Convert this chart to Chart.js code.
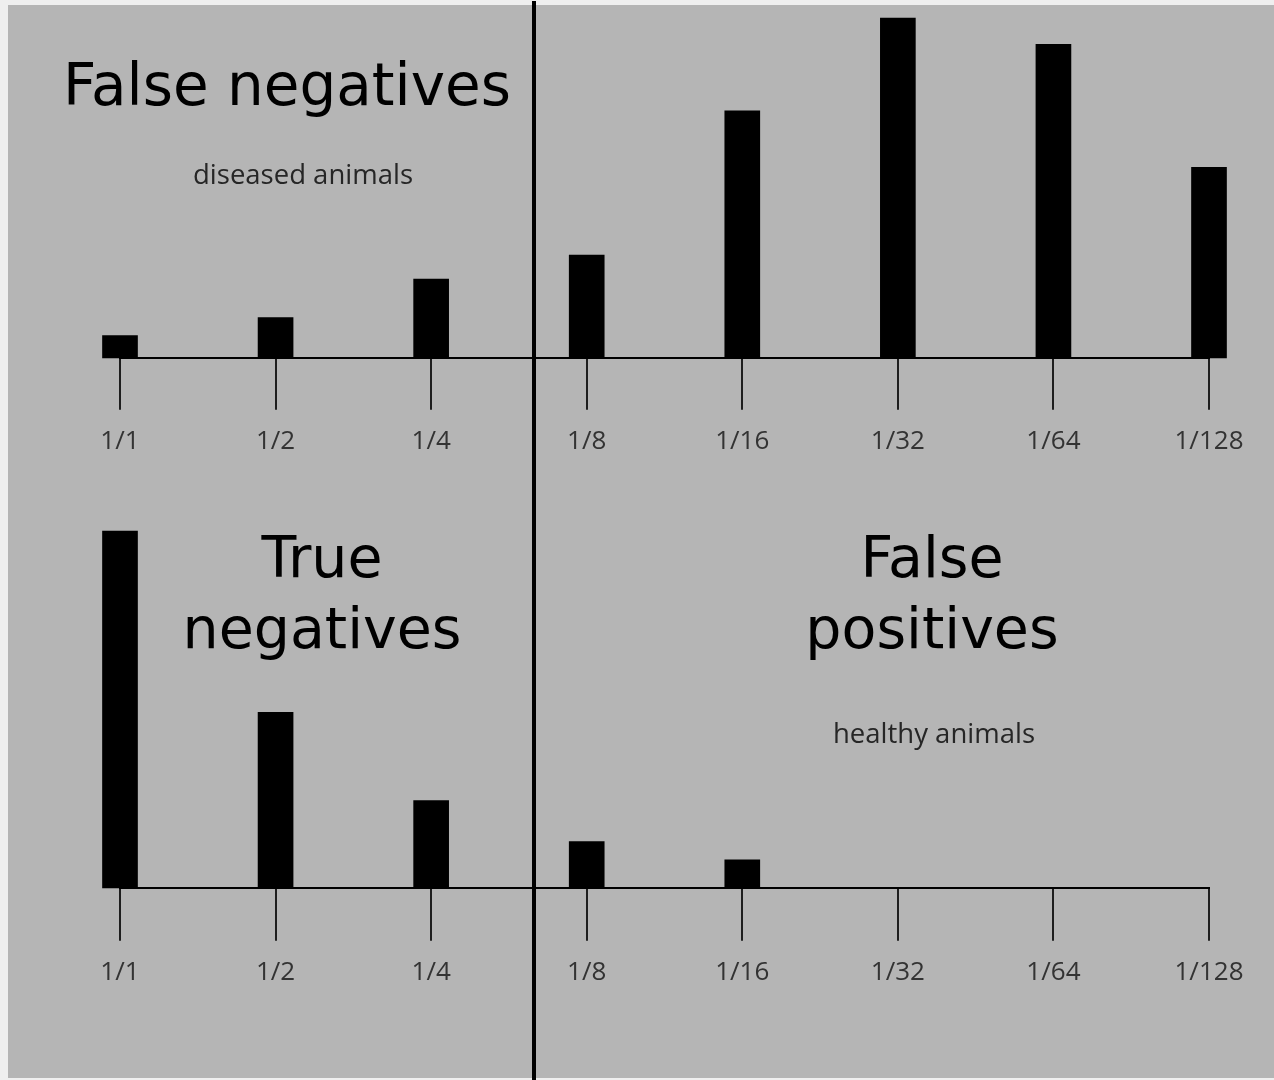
<!DOCTYPE html>
<html>
<head>
<meta charset="utf-8">
<script src="https://cdn.jsdelivr.net/npm/chart.js@4.4.0/dist/chart.umd.min.js"></script>
<style>
  html, body { margin: 0; padding: 0; background: #efefef; width: 1274px; height: 1080px; overflow: hidden; }
  #bg { position: absolute; left: 8px; top: 5px; width: 1266px; height: 1073px; background: #b5b5b5; }
  #c1wrap { position: absolute; left: 0; top: 0; width: 1274px; height: 473px; }
  #c2wrap { position: absolute; left: 0; top: 470px; width: 1274px; height: 610px; }
</style>
</head>
<body>
<div id="bg"></div>
<div id="c1wrap"><canvas id="c1" width="1274" height="473"></canvas></div>
<div id="c2wrap"><canvas id="c2" width="1274" height="610"></canvas></div>
<script>
// ---- data ----
const dilutions = ['1/1', '1/2', '1/4', '1/8', '1/16', '1/32', '1/64', '1/128'];
const diseasedAnimals = [22, 40, 78, 102, 245, 337, 311, 189];
const healthyAnimals = [356, 175, 87, 46, 28, 0, 0, 0];

const DIVIDER_X = 534;

function dividerPlugin(topY) {
  return {
    id: 'divider',
    afterDraw(chart) {
      const ctx = chart.ctx;
      ctx.save();
      ctx.fillStyle = '#000';
      ctx.fillRect(DIVIDER_X - 2, topY, 4, chart.height - topY);
      ctx.restore();
    }
  };
}

function textPlugin(items) {
  return {
    id: 'texts',
    afterDraw(chart) {
      const ctx = chart.ctx;
      ctx.save();
      ctx.textBaseline = 'alphabetic';
      items.forEach(t => {
        ctx.font = t.font;
        ctx.fillStyle = t.color;
        ctx.textAlign = t.align;
        ctx.fillText(t.text, t.x, t.y);
      });
      ctx.restore();
    }
  };
}

const BIG = '57px "DejaVu Sans"';
const BIG_TOP = '58px "DejaVu Sans"';
const SMALL = '500 27.5px "Open Sans"';

function makeOptions(yMax, pad, tickLen, tickPad) {
  return {
    responsive: false,
    animation: false,
    devicePixelRatio: 1,
    layout: { padding: pad },
    plugins: { legend: { display: false }, tooltip: { enabled: false } },
    scales: {
      x: {
        type: 'category',
        offset: false,
        grid: {
          display: true,
          offset: false,
          drawOnChartArea: false,
          drawTicks: true,
          tickLength: tickLen,
          color: '#1e1e1e',
          lineWidth: 2
        },
        border: { display: true, color: '#000', width: 2 },
        ticks: {
          color: '#333',
          padding: tickPad,
          font: { family: '"Open Sans"', size: 26 },
          maxRotation: 0,
          autoSkip: false
        }
      },
      y: {
        display: false,
        min: 0,
        max: yMax
      }
    }
  };
}

const barColor = ctx => (ctx.raw === 0 ? 'rgba(0,0,0,0)' : '#000');

new Chart(document.getElementById('c1'), {
  type: 'bar',
  data: {
    labels: dilutions,
    datasets: [{
      label: 'diseased animals',
      data: diseasedAnimals,
      backgroundColor: barColor,
      barThickness: 35,
      clip: false
    }]
  },
  options: makeOptions(350, { left: 120, right: 65, top: 5, bottom: 0 }, 52, 16),
  plugins: [
    dividerPlugin(1),
    textPlugin([
      { text: 'False negatives', x: 63, y: 105, font: BIG_TOP, color: '#000', align: 'left' },
      { text: 'diseased animals', x: 303, y: 184, font: SMALL, color: '#262626', align: 'center' }
    ])
  ]
});

new Chart(document.getElementById('c2'), {
  type: 'bar',
  data: {
    labels: dilutions,
    datasets: [{
      label: 'healthy animals',
      data: healthyAnimals,
      backgroundColor: barColor,
      barThickness: 35,
      clip: false
    }]
  },
  options: makeOptions(360, { left: 120, right: 65, top: 57, bottom: 76 }, 53, 16),
  plugins: [
    dividerPlugin(0),
    textPlugin([
      { text: 'True', x: 322, y: 107, font: BIG, color: '#000', align: 'center' },
      { text: 'negatives', x: 322, y: 178, font: BIG, color: '#000', align: 'center' },
      { text: 'False', x: 932, y: 107, font: BIG, color: '#000', align: 'center' },
      { text: 'positives', x: 932, y: 178, font: BIG, color: '#000', align: 'center' },
      { text: 'healthy animals', x: 934, y: 273, font: SMALL, color: '#262626', align: 'center' }
    ])
  ]
});
</script>
</body>
</html>
